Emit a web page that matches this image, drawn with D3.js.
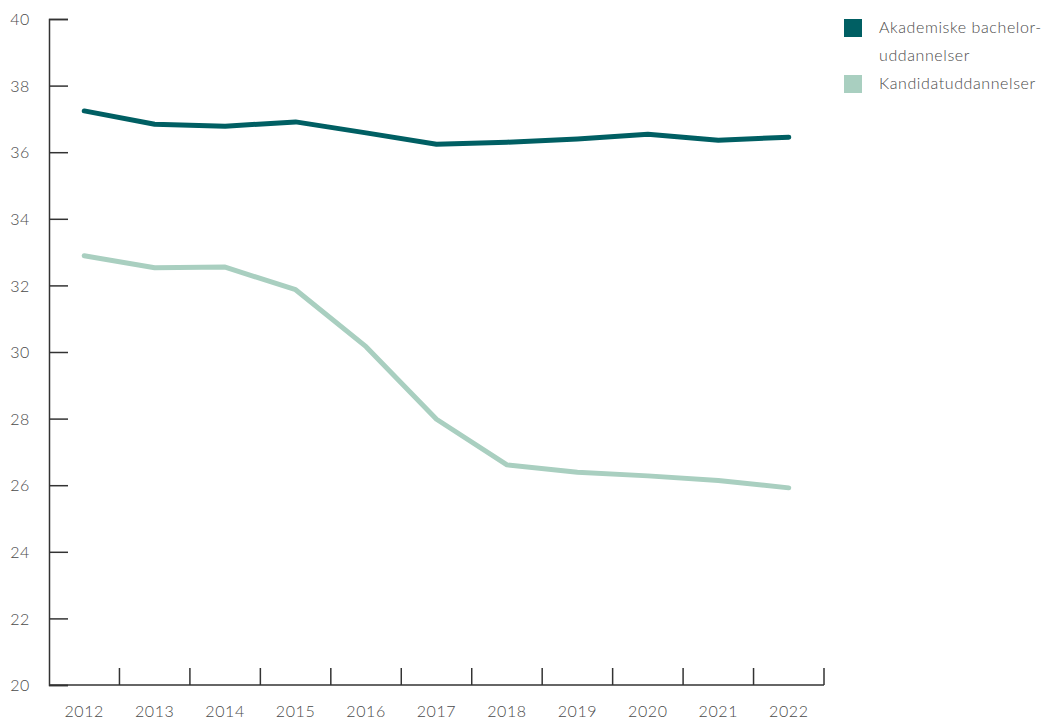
<!DOCTYPE html>
<html>
<head>
<meta charset="utf-8">
<script src="https://cdn.jsdelivr.net/npm/d3@7"></script>
<style>
  body { margin: 0; background: #fff; }
  svg { display: block; }
  text { font-family: Lato, "Open Sans", sans-serif; font-weight: 300; fill: #4a4a4a; letter-spacing: 0.6px; }
</style>
</head>
<body>
<svg id="chart" width="1049" height="721"></svg>
<script>
const years = ["2012","2013","2014","2015","2016","2017","2018","2019","2020","2021","2022"];
const bachelor = [37.24, 36.84, 36.78, 36.91, 36.58, 36.24, 36.30, 36.40, 36.54, 36.36, 36.45];
const kandidat = [32.89, 32.53, 32.55, 31.87, 30.16, 27.98, 26.61, 26.39, 26.28, 26.14, 25.92];
const yTicks = [20, 22, 24, 26, 28, 30, 32, 34, 36, 38, 40];
const seriesNames = ["Akademiske bachelor-", "uddannelser", "Kandidatuddannelser"];
const colors = ["#005f63", "#a9cfc0"];

const svg = d3.select("#chart");
const mLeft = 49, mRight = 824, mTop = 19, mBottom = 685;

const x = d3.scaleBand().domain(years).range([mLeft, mRight]).padding(0);
const y = d3.scaleLinear().domain([20, 40]).range([mBottom, mTop]);

// Y axis
const yAxis = svg.append("g").attr("transform", `translate(${mLeft},0)`)
  .call(d3.axisRight(y).tickValues(yTicks).tickSize(19).tickFormat(d3.format("d")));
yAxis.select(".domain").attr("stroke", "#333").attr("stroke-width", 1.5);
yAxis.selectAll(".tick line").attr("stroke", "#333").attr("stroke-width", 1.5);
yAxis.selectAll(".tick text").attr("x", -19).attr("text-anchor", "end")
  .style("font-size", "16px").attr("dy", "0.35em");

// X axis baseline and dividers
const xg = svg.append("g");
xg.append("line").attr("x1", mLeft).attr("x2", mRight).attr("y1", mBottom).attr("y2", mBottom)
  .attr("stroke", "#333").attr("stroke-width", 1.5);
const edges = years.slice(1).map(d => x(d)).concat([x(years[years.length-1]) + x.bandwidth()]);
xg.selectAll("line.div").data(edges).enter().append("line").attr("class", "div")
  .attr("x1", d => d).attr("x2", d => d).attr("y1", mBottom).attr("y2", mBottom - 17)
  .attr("stroke", "#333").attr("stroke-width", 1.5);
xg.selectAll("text").data(years).enter().append("text")
  .attr("x", d => x(d) + x.bandwidth() / 2).attr("y", 717)
  .attr("text-anchor", "middle").style("font-size", "16px").text(d => d);

// Lines
const line = d3.line().x((d, i) => x(years[i]) + x.bandwidth() / 2).y(d => y(d));
[[kandidat, colors[1]], [bachelor, colors[0]]].forEach(([s, c]) => {
  svg.append("path").datum(s).attr("d", line).attr("fill", "none")
    .attr("stroke", c).attr("stroke-width", 5)
    .attr("stroke-linejoin", "round").attr("stroke-linecap", "round");
});

// Legend
const lg = svg.append("g");
lg.append("rect").attr("x", 844).attr("y", 19).attr("width", 18).attr("height", 18).attr("fill", colors[0]);
lg.append("rect").attr("x", 844).attr("y", 75).attr("width", 18).attr("height", 18).attr("fill", colors[1]);
lg.append("text").attr("x", 879).attr("y", 33).style("font-size", "16px").text(seriesNames[0]);
lg.append("text").attr("x", 879).attr("y", 61).style("font-size", "16px").text(seriesNames[1]);
lg.append("text").attr("x", 879).attr("y", 89).style("font-size", "16px").text(seriesNames[2]);
</script>
</body>
</html>
